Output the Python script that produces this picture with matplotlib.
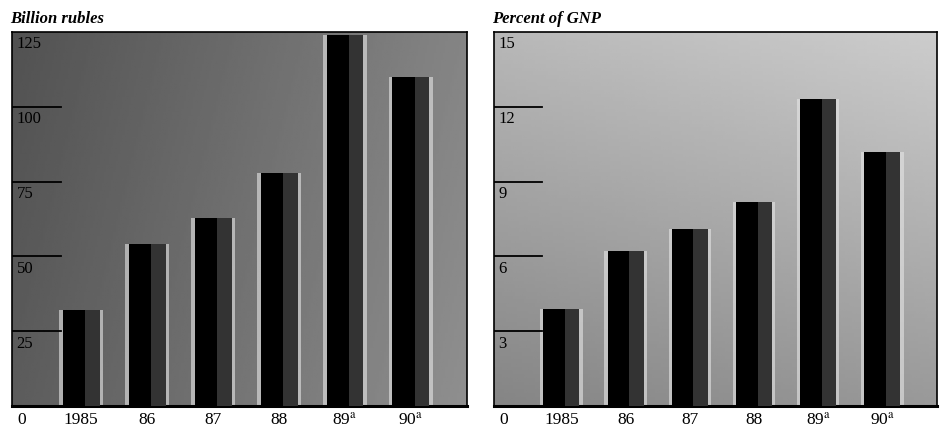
import numpy as np
import matplotlib
matplotlib.use("Agg")
import matplotlib.pyplot as plt

# data
years = ["1985", "86", "87", "88", r"89$^{\mathrm{a}}$", r"90$^{\mathrm{a}}$"]
deficit_rubles = [32, 54, 63, 78, 124, 110]
deficit_gnp = [3.9, 6.2, 7.1, 8.2, 12.3, 10.2]
ticks_rubles = [25, 50, 75, 100, 125]
ticks_gnp = [3, 6, 9, 12, 15]

plt.rcParams["font.family"] = "Liberation Serif"
plt.rcParams["mathtext.fontset"] = "stix"

fig = plt.figure(figsize=(9.4, 4.28), dpi=100)
W, H = 940, 428


def panel(rect, values, ticks, top, title, shade):
    ax = fig.add_axes(rect)
    x = np.arange(len(values))
    ax.set_xlim(-1.05, 5.85)
    ax.set_ylim(0, top)

    # halftone-ish gray background as a smooth gradient
    gx, gy = np.meshgrid(np.linspace(0, 1, 200), np.linspace(0, 1, 100))
    bg = shade[0] + shade[1] * gx + shade[2] * gy
    ax.imshow(bg, cmap="gray", vmin=0, vmax=1, extent=(-1.05, 5.85, 0, top),
              aspect="auto", origin="lower", zorder=0)

    w = 0.56
    ax.bar(x, values, width=w + 0.1, color="#e6e6e6", alpha=0.6, zorder=1)
    ax.bar(x, values, width=w, color="black", zorder=2)
    ax.bar(x + w * 0.3, values, width=w * 0.4, color="#333333", zorder=3)

    # short tick lines with labels sitting under them
    for t in ticks:
        if t != top:
            ax.plot([-1.05, -0.3], [t, t], color="black", lw=1.3, zorder=4)
        ax.text(-0.98, t - top * 0.012, str(t), ha="left", va="top",
                fontsize=12, color="black", zorder=5)

    ax.set_xticks(x)
    ax.set_xticklabels(years, fontsize=12.5)
    ax.tick_params(axis="x", length=0, pad=4)
    ax.set_yticks([])
    ax.annotate("0", xy=(0.012, 0), xycoords="axes fraction", xytext=(0, -4),
                textcoords="offset points", ha="left", va="top", fontsize=12.5)

    for s in ax.spines.values():
        s.set_linewidth(1.2)
    ax.spines["bottom"].set_linewidth(2.2)

    fig.text(rect[0] - 0.002, 0.955, title, ha="left", va="center",
             fontsize=12, style="italic", fontweight="bold")
    return ax


bottom = (H - 406) / H
height = (406 - 32) / H
panel([12 / W, bottom, (467 - 12) / W, height], deficit_rubles, ticks_rubles,
      125, "Billion rubles", (0.36, 0.2, -0.04))
panel([494 / W, bottom, (937 - 494) / W, height], deficit_gnp, ticks_gnp,
      15, "Percent of GNP", (0.52, 0.08, 0.2))

fig.savefig("out.png", dpi=100)
